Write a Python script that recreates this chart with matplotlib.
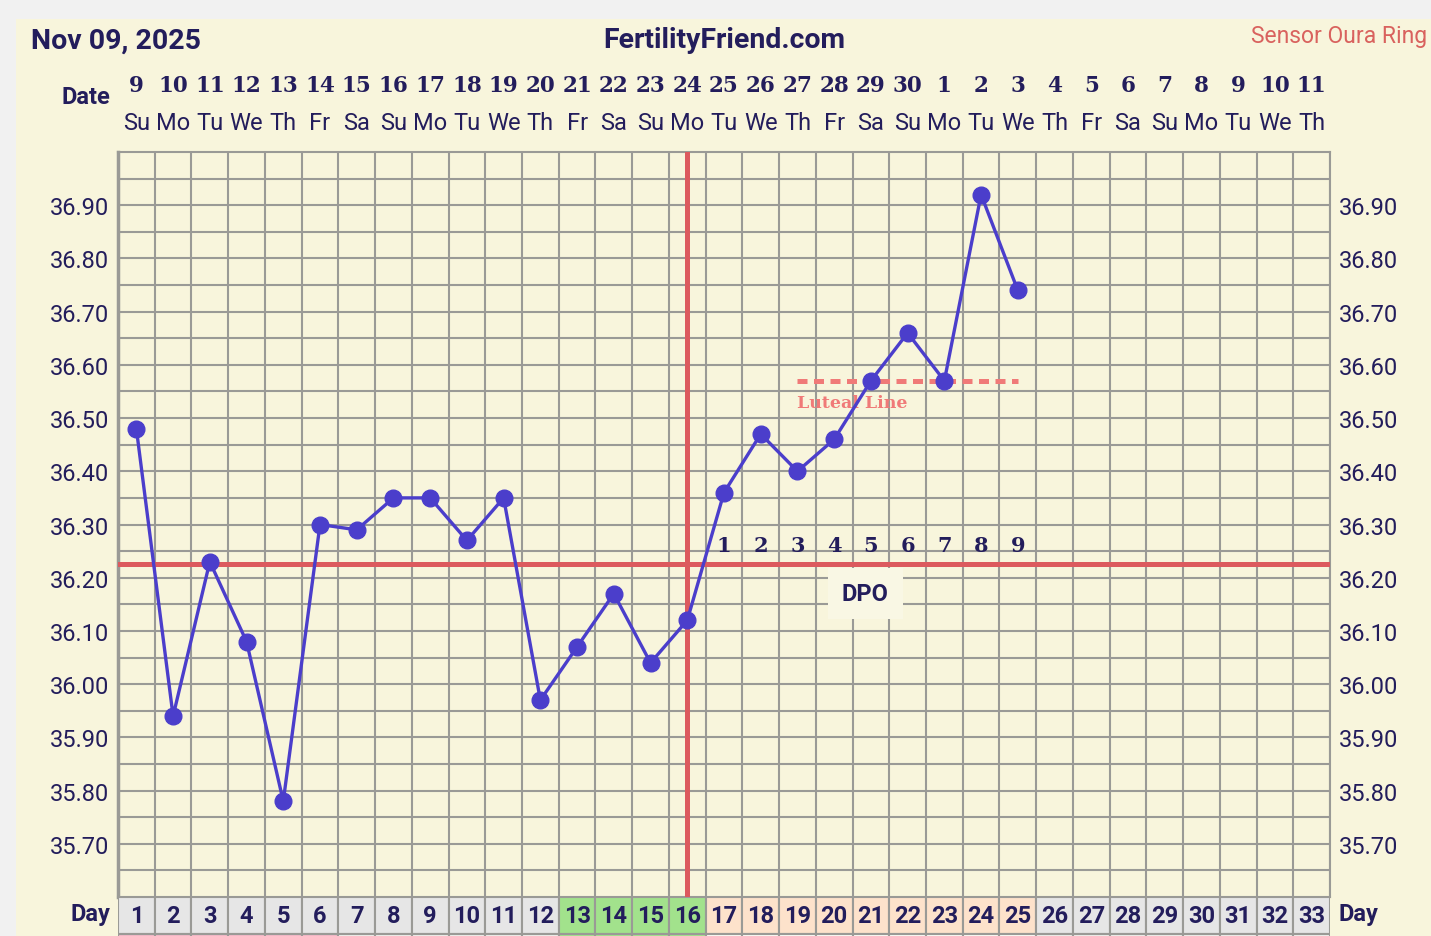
import numpy as np
import matplotlib
matplotlib.use('Agg')
import matplotlib.pyplot as plt
import matplotlib.transforms as mtransforms
from matplotlib.patches import Rectangle

# ---- data ----
days = np.arange(1, 34)
date_nums = list(range(9, 31)) + list(range(1, 12))
weekdays = ['Su', 'Mo', 'Tu', 'We', 'Th', 'Fr', 'Sa']
temp_days = np.arange(1, 26)
temps = [36.48, 35.94, 36.23, 36.08, 35.78, 36.30, 36.29, 36.35, 36.35, 36.27,
         36.35, 35.97, 36.07, 36.17, 36.04, 36.12, 36.36, 36.47, 36.40, 36.46,
         36.57, 36.66, 36.57, 36.92, 36.74]
ovulation_day = 16
coverline = 36.225
luteal_days = [19, 25]
luteal_temp = 36.57
dpo_days = np.arange(17, 26)
dpo_nums = np.arange(1, 10)
ytick_vals = np.round(np.arange(35.70, 36.91, 0.10), 2)

W, H = 1431, 937
navy = '#231d5c'
cream = '#f8f5dc'
gridc = '#9a9a96'
red = '#dc5a5e'
purple = '#4b3ecb'
salmon = '#f07a78'

plt.rcParams['font.family'] = ['Roboto', 'DejaVu Sans']

fig = plt.figure(figsize=(W / 100, H / 100), dpi=100, facecolor='#f1f1f1')
fig.patches.append(Rectangle((16 / W, 0), 1, (H - 20) / H, transform=fig.transFigure,
                             facecolor=cream, edgecolor='none', zorder=-10))

L, R = 118 / W, 1330 / W
top_px, bot_px = 153, 898
ax = fig.add_axes([L, (H - bot_px) / H, R - L, (bot_px - top_px) / H])
ax.set_facecolor(cream)
ax.set_xlim(0.5, 33.5)
ax.set_ylim(35.60, 37.00)

ax.set_xticks(np.arange(0.5, 34, 1))
ax.set_xticklabels([])
ax.set_yticks(ytick_vals)
ax.set_yticklabels(['%.2f' % v for v in ytick_vals])
ax.set_yticks(np.arange(35.65, 37.0, 0.10), minor=True)
ax.grid(which='both', color=gridc, linewidth=1.5, zorder=1)
ax.set_axisbelow(True)
ax.tick_params(which='both', length=0)
ax.tick_params(axis='y', labelsize=17, labelcolor=navy, labelright=True, pad=6.5)
for s in ax.spines.values():
    s.set_color(gridc)
    s.set_linewidth(1.5)
ax.spines['left'].set_linewidth(2.5)

# coverline and ovulation line
ax.axhline(coverline, color=red, linewidth=3.6, zorder=3)
ax.axvline(ovulation_day, ymin=0.004, color=red, linewidth=3.6, zorder=3)

# luteal line
ax.plot(luteal_days, [luteal_temp] * 2, color=salmon, linewidth=3.6,
        linestyle=(0, (2, 1.3)), dash_capstyle='butt', zorder=4)
ax.text(luteal_days[0], luteal_temp - 0.04, 'Luteal Line', color=salmon,
        fontsize=12.5, fontweight='bold', family='DejaVu Serif', ha='left', va='center', zorder=4)

# temperatures
ax.plot(temp_days, temps, '-o', color=purple, linewidth=2.4, markersize=12, zorder=5)

# DPO
for d, n in zip(dpo_days, dpo_nums):
    ax.text(d, 36.262, str(n), color=navy, fontsize=15, fontweight='bold',
            family='DejaVu Serif', ha='center', va='center', zorder=6)
ax.text(20.85, 36.17, 'DPO', color=navy, fontsize=17, fontweight='bold', ha='center', va='center',
        zorder=6, bbox=dict(boxstyle='square,pad=0.6', facecolor='#f9f7e4', edgecolor='none'))

# header rows
tr = mtransforms.blended_transform_factory(ax.transData, fig.transFigure)
for i, d in enumerate(days):
    fig.text(d, (H - 86) / H, str(date_nums[i]), transform=tr, color=navy, fontsize=15.5,
             fontweight='bold', family='DejaVu Serif', ha='center', va='center')
    fig.text(d, (H - 123) / H, weekdays[i % 7], transform=tr, color=navy, fontsize=17,
             ha='center', va='center')
fig.text(110 / W, (H - 97) / H, 'Date', color=navy, fontsize=17, fontweight='bold',
         ha='right', va='center')
fig.text(31 / W, (H - 41) / H, 'Nov 09, 2025', color=navy, fontsize=20.5, fontweight='bold',
         ha='left', va='center')
fig.text(724 / W, (H - 41) / H, 'FertilityFriend.com', color=navy, fontsize=20.5,
         fontweight='bold', ha='center', va='center')
fig.text(1427 / W, (H - 37) / H, 'Sensor Oura Ring', color='#d9625e', fontsize=16.5,
         ha='right', va='center')

# day row
row_h = 37
ax2 = fig.add_axes([L, (H - bot_px - row_h - 12) / H, R - L, (row_h + 12) / H])
ax2.set_xlim(0.5, 33.5)
ax2.set_ylim(-12 / row_h, 1)
ax2.axis('off')
row_colors = []
strip_colors = []
for d in days:
    if 13 <= d <= 16:
        row_colors.append('#a2e28c')
        strip_colors.append('#a2e28c')
    elif 17 <= d <= 25:
        row_colors.append('#fde2cb')
        strip_colors.append('#fbfbf4')
    else:
        row_colors.append('#e6e6e6')
        strip_colors.append('#f3b8c8' if d <= 6 else '#eeeeea')
ax2.bar(days, 1, width=1, bottom=0, color=row_colors, edgecolor=gridc, linewidth=1.5)
ax2.bar(days, -12 / row_h, width=1, bottom=0, color=strip_colors, edgecolor=gridc, linewidth=1.5)
for d in days:
    ax2.text(d, 0.5, str(d), color=navy, fontsize=17, fontweight='bold', ha='center', va='center')
fig.text(110 / W, (H - 915) / H, 'Day', color=navy, fontsize=17, fontweight='bold',
         ha='right', va='center')
fig.text(1339 / W, (H - 915) / H, 'Day', color=navy, fontsize=17, fontweight='bold',
         ha='left', va='center')

fig.savefig('out.png', dpi=100, facecolor=fig.get_facecolor())
